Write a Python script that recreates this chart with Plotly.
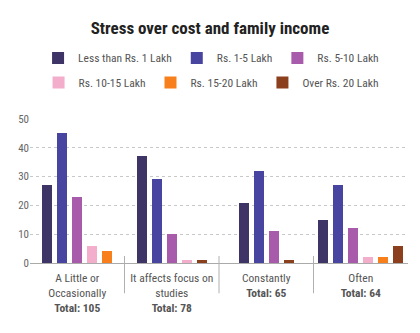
import plotly.graph_objects as go

categories = ["A Little or<br>Occasionally", "It affects focus on<br>studies", "Constantly", "Often"]
totals = [105, 78, 65, 64]
series_names = ["Less than Rs. 1 Lakh", "Rs. 1-5 Lakh", "Rs. 5-10 Lakh",
                "Rs. 10-15 Lakh", "Rs. 15-20 Lakh", "Over Rs. 20 Lakh"]
less_1 = [27, 37, 21, 15]
rs_1_5 = [45, 29, 32, 27]
rs_5_10 = [23, 10, 11, 12]
rs_10_15 = [6, 1, 0, 2]
rs_15_20 = [4, 0, 0, 2]
over_20 = [0, 1, 1, 6]
colors = ["#3e3566", "#4845a0", "#a95bab", "#f2aecb", "#f8801c", "#8b3f1d"]

series_values = [less_1, rs_1_5, rs_5_10, rs_10_15, rs_15_20, over_20]

FONT = "Roboto Condensed, Liberation Sans Narrow, Roboto, sans-serif"
BAR_W = 0.106
STEP = 0.159

fig = go.Figure()
# zero-valued bars are omitted and the remaining bars are centred in their category
positions = [[None] * len(categories) for _ in series_values]
for c in range(len(categories)):
    nz = [s for s in range(len(series_values)) if series_values[s][c] > 0]
    n = len(nz)
    for rank, s in enumerate(nz):
        positions[s][c] = c + (rank - (n - 1) / 2) * STEP

for s, (name, vals) in enumerate(zip(series_names, series_values)):
    xs = [positions[s][c] for c in range(len(categories)) if vals[c] > 0]
    ys = [vals[c] for c in range(len(categories)) if vals[c] > 0]
    fig.add_trace(go.Bar(
        x=xs, y=ys, name=name, width=BAR_W,
        marker=dict(color=colors[s], line=dict(width=0)),
        legend="legend" if s < 3 else "legend2",
    ))

ticktext = [f"{c}<br><b>Total: {t}</b>" for c, t in zip(categories, totals)]

shapes = []
for k in range(len(categories) - 1):
    shapes.append(dict(type="line", xref="x", yref="paper", x0=k + 0.5, x1=k + 0.5,
                       y0=0.049, y1=-0.21, line=dict(color="#b0b0b0", width=1)))

legend_common = dict(orientation="h", x=0.479, xanchor="center", yanchor="top",
                     font=dict(family=FONT, size=11.5, color="#555"), traceorder="normal",
                     itemwidth=30)

fig.update_layout(
    width=420, height=333,
    margin=dict(l=30, r=12, t=119, b=70),
    paper_bgcolor="white", plot_bgcolor="white",
    font=dict(family=FONT, color="#555", size=11.5),
    title=dict(text="<b>Stress over cost and family income</b>", x=0.5, xanchor="center",
               y=0.915, yanchor="middle",
               font=dict(family=FONT, size=17, color="#222")),
    showlegend=True,
    legend=dict(y=1.525, **legend_common),
    legend2=dict(y=1.355, **legend_common),
    bargap=0,
    shapes=shapes,
    xaxis=dict(range=[-0.5, len(categories) - 0.5], tickvals=list(range(len(categories))),
               ticktext=ticktext, ticks="", showgrid=False, zeroline=False,
               showline=True, linecolor="#aaa", linewidth=1, ticklabelstandoff=4,
               tickfont=dict(family=FONT, size=11.5, color="#555")),
    yaxis=dict(range=[0, 50], tickvals=[0, 10, 20, 30, 40, 50], showgrid=True,
               gridcolor="#c8c8c8", griddash="dot", zeroline=False, showline=False,
               ticks="", tickfont=dict(family=FONT, size=11, color="#666")),
)

fig.write_html("out.html")
